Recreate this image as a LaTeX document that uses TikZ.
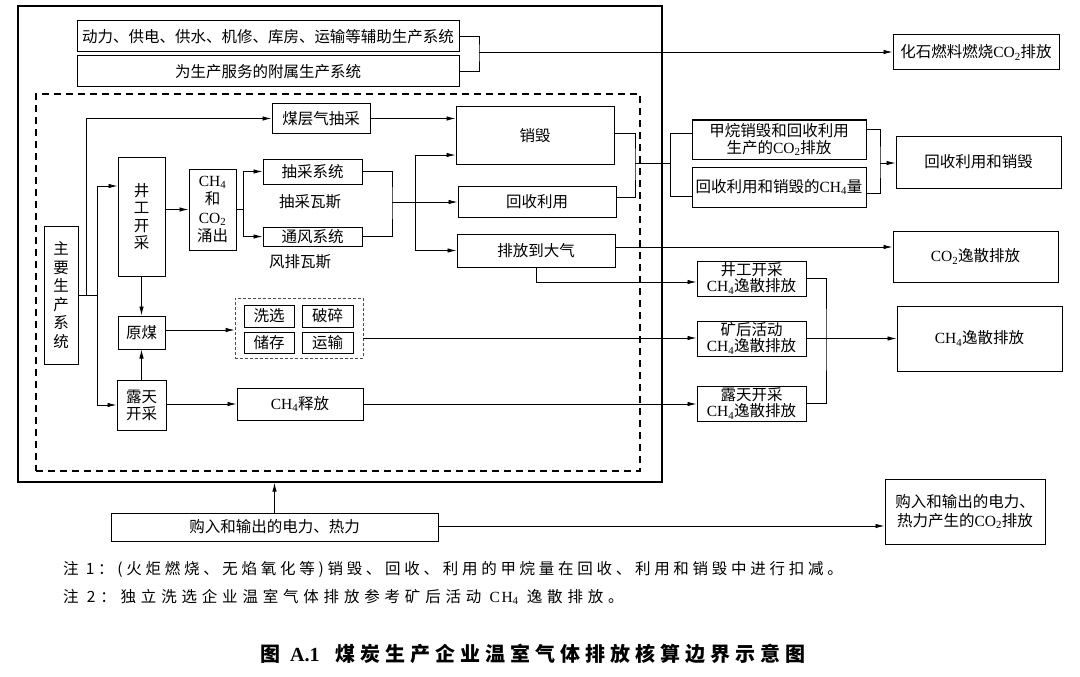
\documentclass[tikz,border=0pt]{standalone}
\usepackage{fontspec}
\setmainfont{Noto Sans CJK SC}
\newfontfamily\lat{Liberation Serif}
\newfontfamily\notefont[LetterSpace=24]{Noto Sans CJK SC}
\newfontfamily\notefontb[LetterSpace=31]{Noto Sans CJK SC}
\newfontfamily\latnote[LetterSpace=10]{Liberation Serif}
\newfontfamily\titlefont[LetterSpace=25]{Noto Sans CJK SC}
\usetikzlibrary{arrows.meta}
\newcommand\chem[2]{{\lat #1\textsubscript{#2}}}
\newcommand\bx[7][]{\node[box,#1,minimum width={(#5-#3)*1pt},minimum height={(#6-#4)*1pt}] (#2) at ({(#3+#5)/2},{(#4+#6)/2}) {#7};}
\tikzset{
  box/.style={draw,line width=1pt,inner sep=0pt,align=center,font=\fontsize{15.5}{17}\selectfont},
  conn/.style={line width=0.9pt},
  arr/.style={conn,-{Latex[length=9pt,width=4.5pt]}},
  lbl/.style={inner sep=0pt,font=\fontsize{15.5}{17}\selectfont},
}
\begin{document}
\begin{tikzpicture}[x=1pt,y=-1pt]
\useasboundingbox (0,0) rectangle (1080,677);
\fill[white] (0,0) rectangle (1080,677);
% outer and dashed boundaries
\bx[line width=1.3pt]{outer}{18}{6}{662}{482}{}
\bx[line width=1.3pt,dash pattern=on 7pt off 5pt]{bound}{36}{94}{640}{471}{}
% top boxes
\bx{aux}{77}{21}{459}{52}{动力、供电、供水、机修、库房、运输等辅助生产系统}
\bx{sub}{77}{56}{459}{87}{为生产服务的附属生产系统}
\bx{fos}{893}{35}{1059}{70}{化石燃料燃烧\chem{CO}{2}排放}
% main production
\bx{cbm}{272}{104}{370}{133}{煤层气抽采}
\bx[font=\fontsize{15.5}{18.5}\selectfont]{main}{44}{226}{78}{364}{主\\要\\生\\产\\系\\统}
\bx[font=\fontsize{15.5}{17.5}\selectfont]{jg}{118}{157}{165}{276}{井\\工\\开\\采}
\bx{ym}{118}{316}{165}{349}{原煤}
\bx[font=\fontsize{15.5}{17}\selectfont]{lt}{117}{380}{166}{430}{露天\\开采}
\bx[font=\fontsize{15.5}{18.5}\selectfont]{gas}{189}{169}{236}{250}{\chem{CH}{4}\\和\\\chem{CO}{2}\\涌出}
\bx{cc}{263}{159}{362}{184}{抽采系统}
\bx{tf}{263}{227}{362}{246}{通风系统}
\node[lbl] (lcc) at (310,202) {抽采瓦斯};
\node[lbl] (ltf) at (300,262) {风排瓦斯};
\bx{xh}{456}{107}{614}{164}{销毁}
\bx{hs}{458}{186}{616}{217}{回收利用}
\bx{pf}{457}{234}{615}{267}{排放到大气}
% group of post-mining activities
\bx[draw=black!70,line width=0.7pt,dash pattern=on 3pt off 2pt]{grp}{235}{298}{363}{358}{}
\bx[line width=0.8pt]{xx}{244}{305}{294}{327}{洗选}
\bx[line width=0.8pt]{ps}{302}{305}{353}{327}{破碎}
\bx[line width=0.8pt]{cz}{244}{332}{294}{353}{储存}
\bx[line width=0.8pt]{ys}{302}{332}{353}{353}{运输}
\bx{rel}{237}{388}{363}{420}{\chem{CH}{4}释放}
% right column
\bx[font=\fontsize{15.5}{17}\selectfont]{me1}{692}{120}{866}{159}{甲烷销毁和回收利用\\生产的\chem{CO}{2}排放}
\bx{me2}{692}{167}{866}{207}{回收利用和销毁的\chem{CH}{4}量}
\bx{hsx}{896}{136}{1061}{188}{回收利用和销毁}
\bx{co2}{893}{231}{1058}{282}{\chem{CO}{2}逸散排放}
\bx[font=\fontsize{15.5}{16}\selectfont]{f1}{697}{261}{806}{296}{井工开采\\\chem{CH}{4}逸散排放}
\bx[font=\fontsize{15.5}{16}\selectfont]{f2}{697}{321}{806}{356}{矿后活动\\\chem{CH}{4}逸散排放}
\bx[font=\fontsize{15.5}{16}\selectfont]{f3}{697}{386}{806}{421}{露天开采\\\chem{CH}{4}逸散排放}
\bx{ch4}{897}{306}{1062}{371}{\chem{CH}{4}逸散排放}
% bottom
\bx{gr}{111}{513}{438}{541}{购入和输出的电力、热力}
\bx[font=\fontsize{15.5}{19}\selectfont]{gre}{885}{479}{1045}{544}{购入和输出的电力、\\热力产生的\chem{CO}{2}排放}
% ---- connectors ----
\coordinate (tb) at (479,52);
\draw[conn] (aux.east) -| (tb) |- (sub.east);
\draw[arr] (tb) -- (tb -| fos.west);
\coordinate (v1) at (86,295);
\coordinate (v2) at (97,295);
\draw[conn] (main.east) -- (v2);
\draw[arr] (v1) |- (cbm.west);
\draw[arr] (v2) |- (jg.west |- 0,186);
\draw[arr] (v2) |- (lt.west);
\draw[arr] (jg.south) -- (ym.north);
\draw[arr] (lt.north) -- (ym.south);
\draw[arr] (jg.east |- gas.west) -- (gas.west);
\coordinate (gj) at (243,209.5);
\draw[conn] (gas.east) -- (gj);
\draw[arr] (gj) |- (cc.west);
\draw[arr] (gj) |- (tf.west);
\coordinate (b1) at (392,202);
\coordinate (b2) at (415,202);
\draw[conn] (cc.east) -| (b1) |- (tf.east);
\draw[arr] (b1) -- (b1 -| hs.west);
\draw[arr] (b2) |- (xh.west |- 0,155);
\draw[arr] (b2) |- (pf.west);
\draw[arr] (cbm.east) -- (cbm.east -| xh.west);
\coordinate (b3) at (635,163);
\coordinate (b4) at (670,163);
\draw[conn] (xh.east |- 0,133) -| (b3) |- (hs.east |- 0,197);
\draw[conn] (b3) -- (b4);
\draw[conn] (b4) |- (me1.west |- 0,133);
\draw[conn] (b4) |- (me2.west |- 0,196);
\coordinate (b5) at (880,163);
\draw[conn] (me1.east |- 0,129) -| (b5) |- (me2.east |- 0,193);
\draw[arr] (b5) -- (b5 -| hsx.west);
\draw[arr] (pf.east |- 0,247) -- (co2.west |- 0,247);
\draw[arr] (pf.south -| 536,0) |- (f1.west |- 0,282);
\draw[arr] (ym.east |- 0,330) -- (grp.west |- 0,330);
\draw[arr] (grp.east |- 0,338) -- (f2.west |- 0,338);
\draw[arr] (lt.east |- rel.west) -- (rel.west);
\draw[arr] (rel.east) -- (rel.east -| f3.west);
\coordinate (b6) at (826,338.5);
\draw[conn] (f1.east |- 0,278) -| (b6) |- (f3.east);
\draw[arr] (f2.east) -- (f2.east -| ch4.west);
\draw[arr] (gr.north) -- (gr.north |- outer.south);
\draw[arr] (gr.east |- 0,526) -- (gre.west |- 0,526);
% notes and title
\node[anchor=base west,inner sep=0pt] (n1) at (63,574) {\notefont\fontsize{15.5}{18}\selectfont 注 1：(火炬燃烧、无焰氧化等)销毁、回收、利用的甲烷量在回收、利用和销毁中进行扣减。};
\node[anchor=base west,inner sep=0pt] (n2) at (63,602) {\notefontb\fontsize{15.5}{18}\selectfont 注 2：独立洗选企业温室气体排放参考矿后活动 {\latnote CH\textsubscript{4}} 逸散排放。};
\node[anchor=base,inner sep=0pt] (title) at (533,661) {\titlefont\bfseries\fontsize{20}{24}\selectfont 图 {\lat\bfseries A.1}\hspace{16pt}煤炭生产企业温室气体排放核算边界示意图};
\end{tikzpicture}
\end{document}
